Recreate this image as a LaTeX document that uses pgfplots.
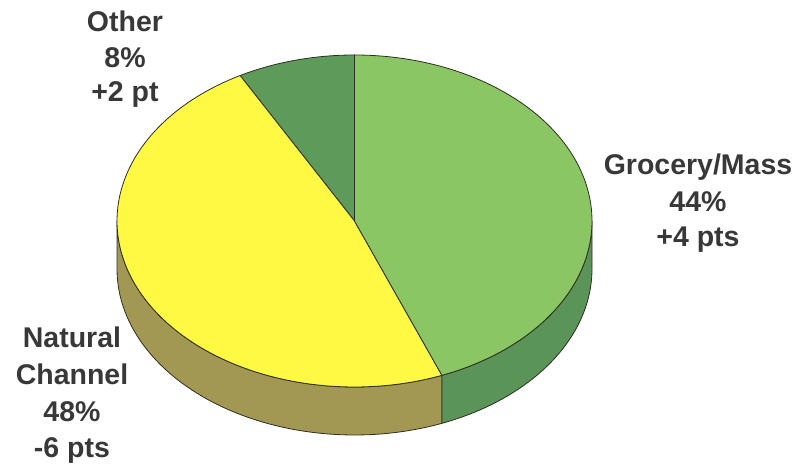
\documentclass[border=0pt]{standalone}
\usepackage{pgfplots}
\pgfplotsset{compat=1.18}
\usepackage{pgfplotstable}
\usepackage{fontspec}
\setmainfont{Liberation Sans}
\definecolor{cGro}{HTML}{8BC664}
\definecolor{cGroS}{HTML}{5B9459}
\definecolor{cOth}{HTML}{5E9A5A}
\definecolor{cNat}{HTML}{FFF944}
\definecolor{cNatS}{HTML}{A39853}
\definecolor{edge}{HTML}{2E2E22}
\definecolor{txt}{HTML}{383838}
\pgfplotstableread{
name share
Other 8
Natural 48
Grocery 44
}\shares
\begin{document}
\begin{tikzpicture}
\pgfplotstablegetelem{0}{share}\of\shares \let\vO\pgfplotsretval
\pgfplotstablegetelem{1}{share}\of\shares \let\vN\pgfplotsretval
\pgfplotstablegetelem{2}{share}\of\shares \let\vG\pgfplotsretval
\pgfmathsetmacro\tO{90}
\pgfmathsetmacro\tN{\tO+3.6*\vO}
\pgfmathsetmacro\tG{\tN+3.6*\vN}
\pgfmathsetmacro\tE{\tG+3.6*\vG}
% sample helpers for top sectors
\pgfmathsetmacro\oM{\tO-1}\pgfmathsetmacro\oS{\tO+(\tN-\tO)/40}
\pgfmathsetmacro\nM{\tN-1}\pgfmathsetmacro\nS{\tN+(\tG-\tN)/120}
\pgfmathsetmacro\gM{\tG-1}\pgfmathsetmacro\gS{\tG+(\tE-\tG)/120}
% sample helpers for sides (bottom arc encoded as angle+720)
\pgfmathsetmacro\sNa{180}\pgfmathsetmacro\sNb{180+(\tG-180)/60}
\pgfmathsetmacro\sNc{\tG+720}\pgfmathsetmacro\sNd{\tG+720-(\tG-180)/60}\pgfmathsetmacro\sNe{180+720}
\pgfmathsetmacro\sGa{\tG}\pgfmathsetmacro\sGb{\tG+(360-\tG)/40}
\pgfmathsetmacro\sGc{360+720}\pgfmathsetmacro\sGd{360+720-(360-\tG)/40}\pgfmathsetmacro\sGe{\tG+720}
\def\cx{354.5}\def\cy{247}\def\ra{237.5}\def\rb{166}\def\dep{48}
\tikzset{lab/.style={font=\bfseries\fontsize{28.5}{34}\selectfont, text=txt, anchor=base, inner sep=0pt}}
\path[use as bounding box] (0,0) rectangle (799pt,468pt);
\begin{axis}[at={(0,0)}, anchor=south west, width=799pt, height=468pt, scale only axis,
  xmin=0, xmax=799, ymin=0, ymax=468, hide axis, clip=false]
% ---- sides (front half) ----
\addplot[fill=cNatS, draw=edge, line width=0.8pt, line join=round,
  samples at={\sNa,\sNb,...,\tG,\tG,\sNc,\sNd,...,\sNe,\sNe}]
  ({\cx+\ra*cos(x)},{\cy+\rb*sin(x)-(x>600 ? \dep : 0)}) -- cycle;
\addplot[fill=cGroS, draw=edge, line width=0.8pt, line join=round,
  samples at={\sGa,\sGb,...,360,360,\sGc,\sGd,...,\sGe,\sGe}]
  ({\cx+\ra*cos(x)},{\cy+\rb*sin(x)-(x>600 ? \dep : 0)}) -- cycle;
% ---- top face sectors ----
\addplot[fill=cOth, draw=edge, line width=0.8pt, line join=round, samples at={\oM,\tO,\oS,...,\tN,\tN}]
  ({\cx+(x<\tO ? 0 : 1)*\ra*cos(x)},{\cy+(x<\tO ? 0 : 1)*\rb*sin(x)}) -- cycle;
\addplot[fill=cNat, draw=edge, line width=0.8pt, line join=round, samples at={\nM,\tN,\nS,...,\tG,\tG}]
  ({\cx+(x<\tN ? 0 : 1)*\ra*cos(x)},{\cy+(x<\tN ? 0 : 1)*\rb*sin(x)}) -- cycle;
\addplot[fill=cGro, draw=edge, line width=0.8pt, line join=round, samples at={\gM,\tG,\gS,...,\tE,\tE}]
  ({\cx+(x<\tG ? 0 : 1)*\ra*cos(x)},{\cy+(x<\tG ? 0 : 1)*\rb*sin(x)}) -- cycle;
% ---- labels ----
\node[lab] at (axis cs:125,436) {Other};
\node[lab] at (axis cs:125,400) {8\%};
\node[lab] at (axis cs:125,366) {+2 pt};
\node[lab] at (axis cs:698,293) {Grocery/Mass};
\node[lab] at (axis cs:698,256) {44\%};
\node[lab] at (axis cs:698,221) {+4 pts};
\node[lab] at (axis cs:72,120) {Natural};
\node[lab] at (axis cs:72,83) {Channel};
\node[lab] at (axis cs:72,46) {48\%};
\node[lab] at (axis cs:72,11) {-6 pts};
\end{axis}
\end{tikzpicture}
\end{document}
